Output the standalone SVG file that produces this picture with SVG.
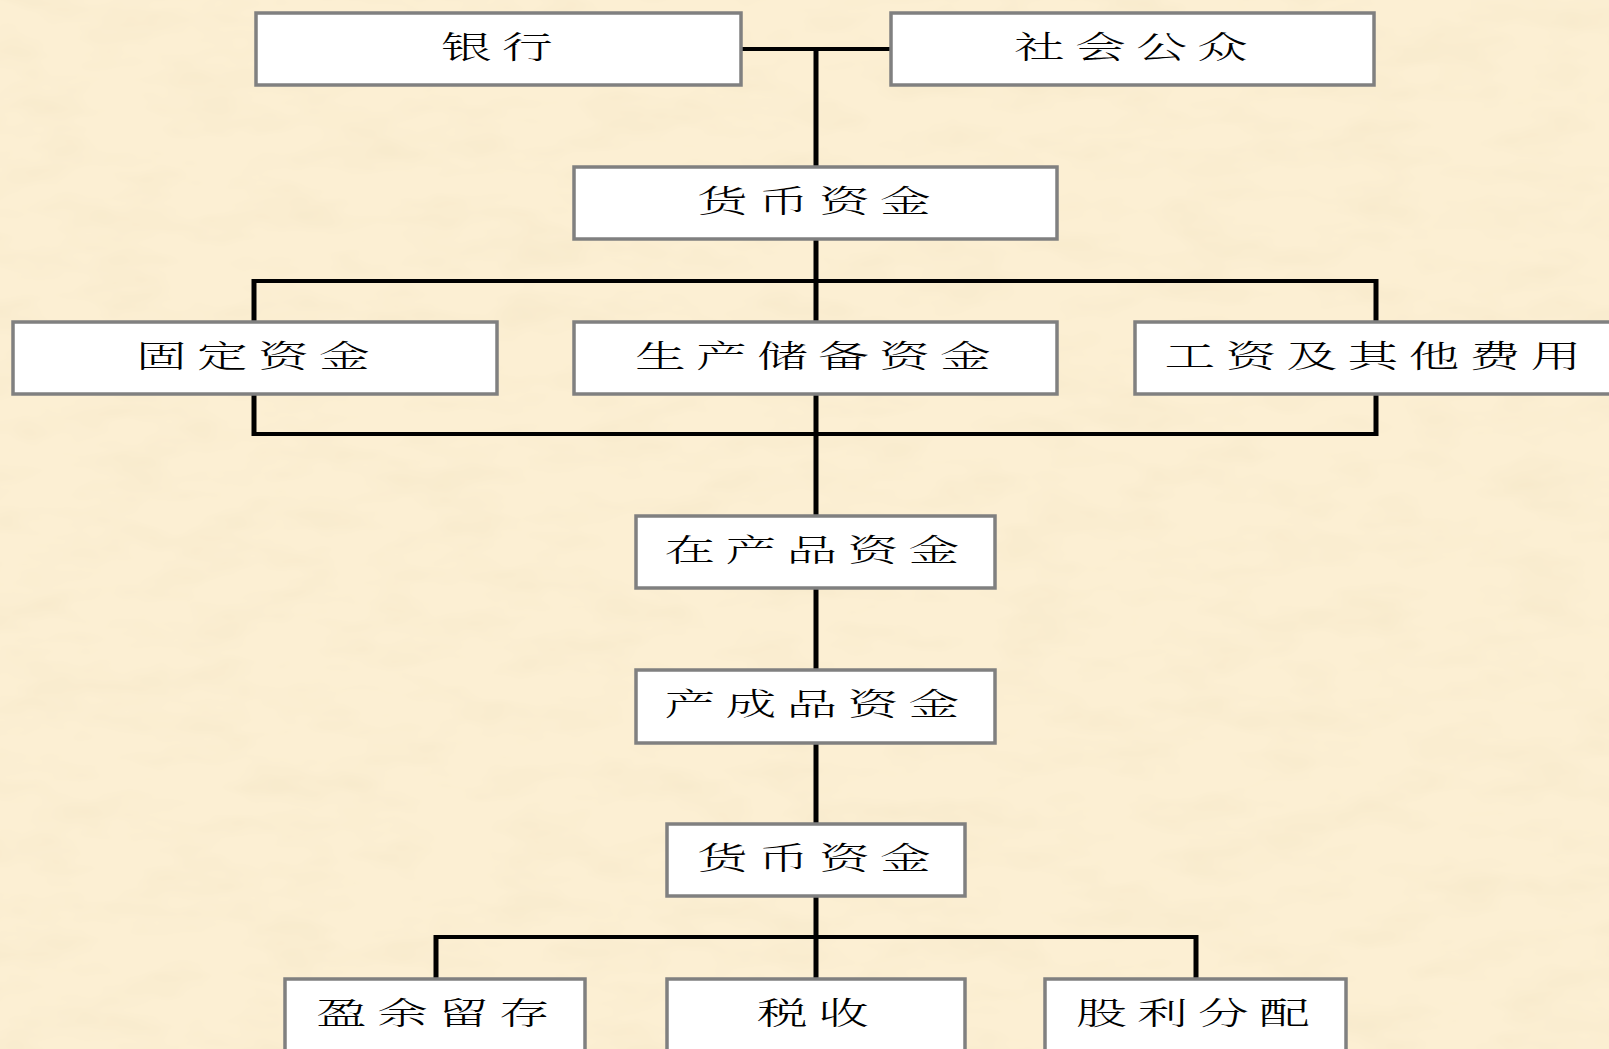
<svg xmlns="http://www.w3.org/2000/svg" width="1609" height="1049" viewBox="0 0 1609 1049">
<style>
.box{fill:#ffffff;stroke:#808080;stroke-width:3.5}
.ln{stroke:#000;stroke-width:4;fill:none}
.lv{stroke:#000;stroke-width:5;fill:none}
.t{font-family:"Noto Serif CJK SC","Noto Sans CJK SC",serif;font-size:31px;font-weight:300;letter-spacing:6.2px;fill:#000;text-anchor:middle;dominant-baseline:central}
</style>
<defs>
<filter id="paper" x="0" y="0" width="100%" height="100%">
<feTurbulence type="fractalNoise" baseFrequency="0.012 0.03" numOctaves="3" seed="7"/>
<feColorMatrix type="matrix" values="0 0 0 0 0.93  0 0 0 0 0.82  0 0 0 0 0.6  0 0 0 1.7 -0.72"/>
</filter>
</defs>
<rect x="0" y="0" width="1609" height="1049" fill="#FCEFD3"/>
<rect x="0" y="0" width="1609" height="1049" filter="url(#paper)"/>

<g id="connectors">
<path class="ln" d="M741 49H891"/>
<path class="lv" d="M816 49V516"/>
<path class="ln" d="M252 281H1378"/>
<path class="lv" d="M254 279V322M1376 279V322"/>
<path class="ln" d="M252 434H1378"/>
<path class="lv" d="M254 394V436M1376 394V436"/>
<path class="lv" d="M816 588V670M816 743V824M816 896V979"/>
<path class="ln" d="M434 937H1198"/>
<path class="lv" d="M436 935V979M1196 935V979"/>
</g>

<g id="n-bank"><rect class="box" x="256" y="13" width="485" height="72"/><text class="t" transform="translate(497 44.5) scale(1.64 1)" x="3">银行</text></g>
<g id="n-public"><rect class="box" x="891" y="13" width="483" height="72"/><text class="t" transform="translate(1131 44.5) scale(1.64 1)" x="3">社会公众</text></g>
<g id="n-money1"><rect class="box" x="574" y="167" width="483" height="72"/><text class="t" transform="translate(814 198.5) scale(1.64 1)" x="3">货币资金</text></g>
<g id="n-fixed"><rect class="box" x="13" y="322" width="484" height="72"/><text class="t" transform="translate(253 353.5) scale(1.64 1)" x="3">固定资金</text></g>
<g id="n-reserve"><rect class="box" x="574" y="322" width="483" height="72"/><text class="t" transform="translate(813 353.5) scale(1.64 1)" x="3">生产储备资金</text></g>
<g id="n-wages"><rect class="box" x="1135" y="322" width="485" height="72"/><text class="t" transform="translate(1373 353.5) scale(1.64 1)" x="3">工资及其他费用</text></g>
<g id="n-wip"><rect class="box" x="636" y="516" width="359" height="72"/><text class="t" transform="translate(812 547.5) scale(1.64 1)" x="3">在产品资金</text></g>
<g id="n-finished"><rect class="box" x="636" y="670" width="359" height="73"/><text class="t" transform="translate(812 702) scale(1.64 1)" x="3">产成品资金</text></g>
<g id="n-money2"><rect class="box" x="667" y="824" width="298" height="72"/><text class="t" transform="translate(814 855.5) scale(1.64 1)" x="3">货币资金</text></g>
<g id="n-retained"><rect class="box" x="285" y="979" width="300" height="74"/><text class="t" transform="translate(433 1011) scale(1.64 1)" x="3">盈余留存</text></g>
<g id="n-tax"><rect class="box" x="667" y="979" width="298" height="74"/><text class="t" transform="translate(813 1011) scale(1.64 1)" x="3">税收</text></g>
<g id="n-dividend"><rect class="box" x="1045" y="979" width="301" height="74"/><text class="t" transform="translate(1193 1011) scale(1.64 1)" x="3">股利分配</text></g>
</svg>
